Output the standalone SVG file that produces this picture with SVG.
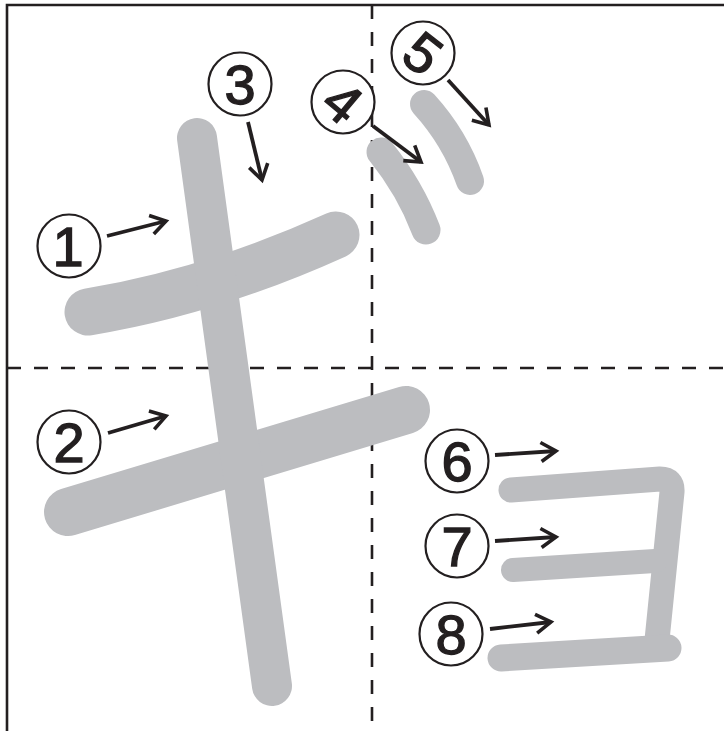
<svg xmlns="http://www.w3.org/2000/svg" width="724" height="731" viewBox="0 0 724 731">
<defs>
<style>
.st{fill:none;stroke:#bcbdc0;stroke-linecap:round;stroke-linejoin:round}
.ring{fill:#fff;stroke:#231f20;stroke-width:2.2}
.num{font-family:"Liberation Sans",Arial,sans-serif;font-size:56px;fill:#231f20;stroke:#231f20;stroke-width:1.3;text-anchor:middle}
.arr{fill:none;stroke:#231f20;stroke-width:3.8;marker-end:url(#ah)}
.guide{fill:none;stroke:#231f20;stroke-width:2.6;stroke-dasharray:14 13}
.frame{fill:none;stroke:#231f20;stroke-width:2.6}
</style>
<marker id="ah" markerUnits="userSpaceOnUse" markerWidth="30" markerHeight="30" refX="0" refY="0" viewBox="-20 -15 30 30" orient="auto" overflow="visible">
<path d="M -15 -9.5 L 0 0 L -15 9.5" fill="none" stroke="#231f20" stroke-width="3.6" stroke-linejoin="miter"/>
</marker>
</defs>
<rect width="724" height="731" fill="#fff"/>
<g id="frame">
<path class="frame" d="M 7 731 V 5 H 724"/>
<path class="guide" d="M 7 368 H 724"/>
<path class="guide" d="M 372 5 V 731"/>
</g>
<g id="stroke1"><path class="st" stroke-width="47" d="M 88 312 Q 210 292 336 235"/></g>
<g id="stroke2"><path class="st" stroke-width="48" d="M 68 512 L 406 410"/></g>
<g id="stroke3"><path class="st" stroke-width="40" d="M 197 138 Q 230 380 272 686"/></g>
<g id="stroke4"><path class="st" stroke-width="29" d="M 381 152 Q 410 188 426 230"/></g>
<g id="stroke5"><path class="st" stroke-width="28" d="M 424 104 Q 455 138 470 181"/></g>
<g id="stroke6"><path class="st" stroke-width="25" d="M 511 490 L 660 479 Q 673 479 672 492 L 657 640"/></g>
<g id="stroke7"><path class="st" stroke-width="24" d="M 513 570 L 655 561"/></g>
<g id="stroke8"><path class="st" stroke-width="27" d="M 501 658 L 668 648"/></g>
<g id="connectors">
<path class="arr" d="M 107 236 L 166 221"/>
<path class="arr" d="M 108 433 L 166 416"/>
<path class="arr" d="M 248 122 L 262 180"/>
<path class="arr" d="M 373 126 L 421 162"/>
<path class="arr" d="M 448 80 L 489 125"/>
<path class="arr" d="M 495 455 L 556 451"/>
<path class="arr" d="M 495 541 L 556 537"/>
<path class="arr" d="M 490 629 L 551 622"/>
</g>
<g id="label1"><circle class="ring" cx="69" cy="246" r="31.5"/><text class="num" x="68" y="266">1</text></g>
<g id="label2"><circle class="ring" cx="69" cy="442" r="31.5"/><text class="num" x="69" y="462">2</text></g>
<g id="label3"><circle class="ring" cx="240" cy="84" r="31.5"/><text class="num" x="240" y="104">3</text></g>
<g id="label4"><circle class="ring" cx="343" cy="102" r="31.5"/><text class="num" x="343" y="122" transform="rotate(40 343 102)">4</text></g>
<g id="label5"><circle class="ring" cx="423" cy="53" r="31.5"/><text class="num" x="423" y="73" transform="rotate(38 423 53)">5</text></g>
<g id="label6"><circle class="ring" cx="457" cy="461" r="31.5"/><text class="num" x="457" y="481">6</text></g>
<g id="label7"><circle class="ring" cx="457" cy="546" r="31.5"/><text class="num" x="457" y="566">7</text></g>
<g id="label8"><circle class="ring" cx="451" cy="634" r="31.5"/><text class="num" x="451" y="654">8</text></g>
</svg>
